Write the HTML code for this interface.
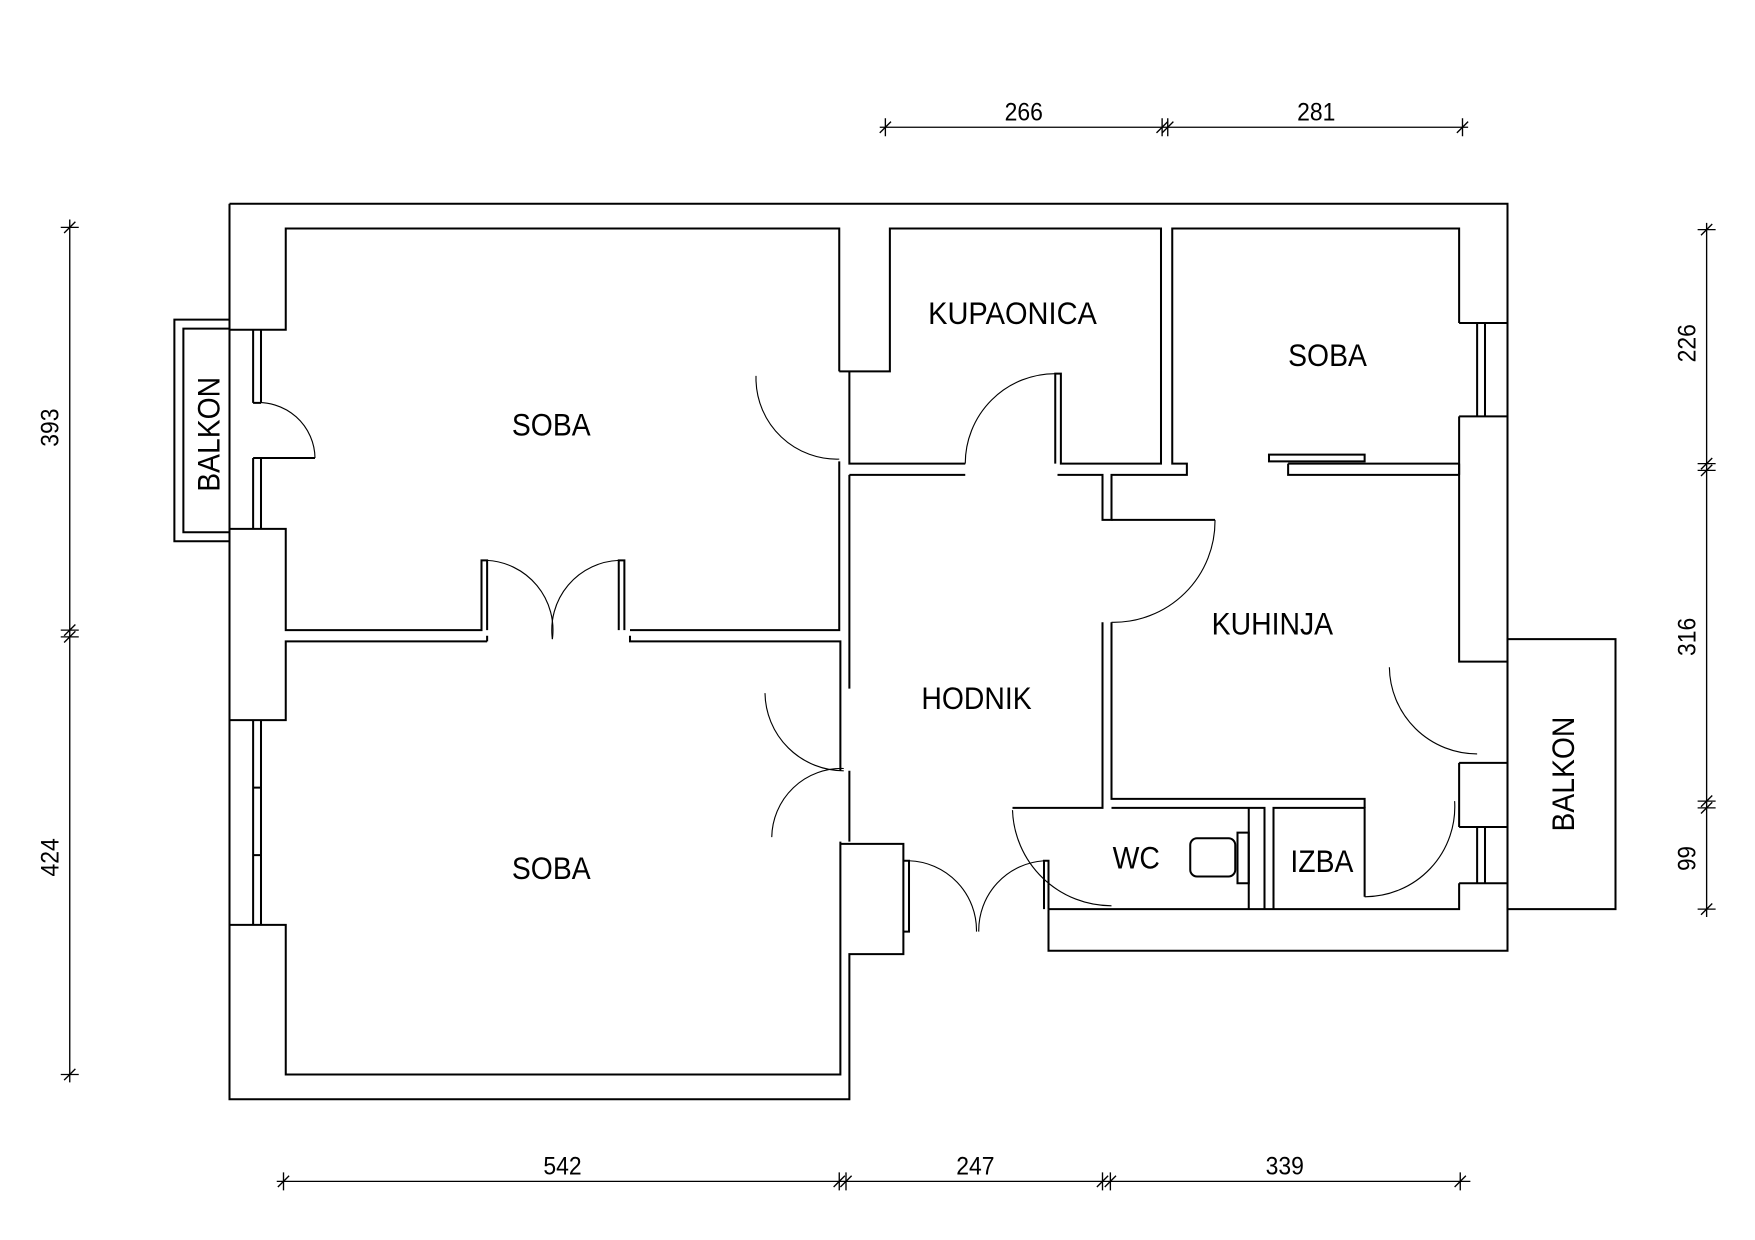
<!DOCTYPE html>
<html><head><meta charset="utf-8"><style>
html,body{margin:0;padding:0;background:#fff;}
svg{display:block}
text{font-family:"Liberation Sans",sans-serif;fill:#000}
</style></head><body>
<svg width="1755" height="1240" viewBox="0 0 1560 1102" xmlns="http://www.w3.org/2000/svg">
<rect width="1560" height="1102" fill="#fff"/>
<g fill="none" stroke="#000" stroke-width="1.8">
<!-- outer -->
<path d="M204,181 H1340 V845 H932 V808"/>
<path d="M204,181 V977 H755 V848 H803 V750 H747"/>
<!-- upper soba -->
<path d="M746,330 V203 H254 V293 H204"/>
<path d="M204,470 H254 V560 H428 V498 H433 V560"/>
<path d="M555,560 V498 H550 V560 M560,560 H746 V410"/>
<!-- lower soba -->
<path d="M433,570 H254 V640 H204"/>
<path d="M204,822 H254 V955 H747 V748"/>
<path d="M747,685 V612 M747,612 V570 H560 V565"/>
<path d="M433,570 V565"/>
<!-- kupaonica -->
<path d="M746,330 H791 V203 H1032 V412 H943 V332 H938 V412"/>
<path d="M858,412 H755 V330"/>
<!-- hodnik left -->
<path d="M755,422 V612 M755,685 V748"/>
<path d="M755,422 H858 M940,422 H980 V462 H988 V422 H1055 V412 H1042 V203 H1297 V287"/>
<path d="M1297,370 V588 H1340"/>
<!-- right soba bottom / kuhinja top -->
<path d="M1145,412 H1297 M1145,412 V422 H1297"/>
<rect x="1128" y="404" width="85" height="6"/>
<!-- kuhinja -->
<path d="M988,553 V710 H1213 V718"/>
<path d="M980,553 V718 H900"/>
<path d="M988,462 H1080"/>
<path d="M1297,678 H1340 M1297,678 V735 M1297,785 V808 H932"/>
<path d="M1297,412 V422"/>
<!-- wc/izba -->
<path d="M988,718 H1124 V808 M1132,808 V718 H1213 V797"/>
<path d="M1110,718 V808"/>
<rect x="1058" y="745" width="40" height="34" rx="6"/>
<rect x="1100" y="740" width="10" height="45"/>
<path d="M928,808 V765 H932 V808 M803,765 H808 V828 H803"/>
<!-- balconies -->
<rect x="1340" y="568" width="96" height="240"/>
<path d="M204,284 H155 V481 H204 M204,292 H163 V473 H204"/>
<!-- windows -->
<path d="M225,293 V358 M232,293 V358 M225,407 V470 M232,407 V470 M225,358 H232 M225,407 H280"/>
<path d="M225,640 V822 M232,640 V822 M225,700 H232 M225,760 H232"/>
<path d="M1313,287 V370 M1320,287 V370 M1313,735 V785 M1320,735 V785"/>
<path d="M1297,370 H1340 M1297,287 H1340"/>
<path d="M1297,735 H1340 M1297,785 H1340"/>
</g>
<!-- door arcs -->
<g fill="none" stroke="#000" stroke-width="1">
<path d="M225,358 A50,50 0 0 1 280,407"/>
<path d="M672,334 V338 A72,72 0 0 0 746,408"/>
<path d="M433,498 A62,62 0 0 1 491,568"/>
<path d="M550,498 A62,62 0 0 0 491,568"/>
<path d="M938,332 A80,80 0 0 0 858,412"/>
<path d="M1080,462 A90,90 0 0 1 988,553"/>
<path d="M680,616 A70,70 0 0 0 750,685"/>
<path d="M686,744 A62,62 0 0 1 750,683"/>
<path d="M808,765 A62,62 0 0 1 868,828"/>
<path d="M928,765 A62,62 0 0 0 870,828"/>
<path d="M900,720 A88,88 0 0 0 988,805"/>
<path d="M1235,593 A78,78 0 0 0 1313,670"/>
<path d="M1213,797 A80,80 0 0 0 1293,712"/>
</g>
<!-- dimension lines -->
<g fill="none" stroke="#000" stroke-width="1.2">
<path d="M782,113 H1305 M787,105 V121 M1033,105 V121 M1038,105 V121 M1300,105 V121"/>
<path d="M782,118 L792,108 M1028,118 L1038,108 M1033,118 L1043,108 M1295,118 L1305,108"/>
<path d="M246,1050 H1307 M252,1042 V1058 M746,1042 V1058 M752,1042 V1058 M980,1042 V1058 M987,1042 V1058 M1298,1042 V1058"/>
<path d="M247,1055 L257,1045 M741,1055 L751,1045 M747,1055 L757,1045 M975,1055 L985,1045 M982,1055 L992,1045 M1293,1055 L1303,1045"/>
<path d="M62,195 V962 M54,202 H70 M54,560 H70 M54,566 H70 M54,955 H70"/>
<path d="M57,207 L67,197 M57,565 L67,555 M57,571 L67,561 M57,960 L67,950"/>
<path d="M1517,198 V815 M1509,204 H1525 M1509,412 H1525 M1509,418 H1525 M1509,712 H1525 M1509,718 H1525 M1509,808 H1525"/>
<path d="M1512,209 L1522,199 M1512,417 L1522,407 M1512,423 L1522,413 M1512,717 L1522,707 M1512,723 L1522,713 M1512,813 L1522,803"/>
</g>
<g font-size="22" text-anchor="middle">
<text x="910" y="107" textLength="34" lengthAdjust="spacingAndGlyphs">266</text>
<text x="1170" y="107" textLength="34" lengthAdjust="spacingAndGlyphs">281</text>
<text x="500" y="1044" textLength="34" lengthAdjust="spacingAndGlyphs">542</text>
<text x="867" y="1044" textLength="34" lengthAdjust="spacingAndGlyphs">247</text>
<text x="1142" y="1044" textLength="34" lengthAdjust="spacingAndGlyphs">339</text>
<text transform="translate(52,380) rotate(-90)" textLength="34" lengthAdjust="spacingAndGlyphs">393</text>
<text transform="translate(52,762) rotate(-90)" textLength="34" lengthAdjust="spacingAndGlyphs">424</text>
<text transform="translate(1507,305) rotate(-90)" textLength="34" lengthAdjust="spacingAndGlyphs">226</text>
<text transform="translate(1507,566) rotate(-90)" textLength="34" lengthAdjust="spacingAndGlyphs">316</text>
<text transform="translate(1507,763) rotate(-90)" textLength="22" lengthAdjust="spacingAndGlyphs">99</text>
</g>
<g font-size="28" text-anchor="middle">
<text x="490" y="387" textLength="70" lengthAdjust="spacingAndGlyphs">SOBA</text>
<text x="490" y="781" textLength="70" lengthAdjust="spacingAndGlyphs">SOBA</text>
<text x="1180" y="325" textLength="70" lengthAdjust="spacingAndGlyphs">SOBA</text>
<text x="900" y="288" textLength="150" lengthAdjust="spacingAndGlyphs">KUPAONICA</text>
<text x="1131" y="564" textLength="108" lengthAdjust="spacingAndGlyphs">KUHINJA</text>
<text x="868" y="630" textLength="98" lengthAdjust="spacingAndGlyphs" fill="#333">HODNIK</text>
<text x="1010" y="772" textLength="42" lengthAdjust="spacingAndGlyphs">WC</text>
<text x="1175" y="775" textLength="56" lengthAdjust="spacingAndGlyphs">IZBA</text>
<text transform="translate(195,386) rotate(-90)" textLength="102" lengthAdjust="spacingAndGlyphs">BALKON</text>
<text transform="translate(1399,688) rotate(-90)" textLength="102" lengthAdjust="spacingAndGlyphs">BALKON</text>
</g>
</svg>
</body></html>
